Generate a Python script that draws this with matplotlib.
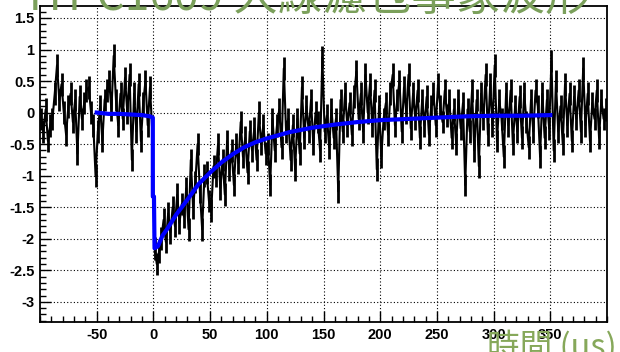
import numpy as np
import matplotlib
matplotlib.use("Agg")
import matplotlib.pyplot as plt
from matplotlib.ticker import MultipleLocator, FuncFormatter

# ---- data ----
bin_start = -99
bin_step = 2
signal = [
    # -99 .. -51
    -0.1, -0.3, 0.05, -0.45, -0.2,
    -0.1, 0.3, 0.75, 0.2, 0.45,
    0.0, -0.35, 0.1, 0.3, -0.15,
    0.2, -0.65, 0.25, -0.1, 0.15,
    0.35, 0.4, 0.0, -0.2, -1.0,
    # -49 .. -1
    -0.3, 0.1, -0.45, 0.2, 0.35,
    0.5, 0.05, 0.9, 0.2, -0.2,
    0.3, -0.1, 0.55, 0.0, 0.6,
    -0.75, 0.3, -0.3, 0.45, -0.45,
    0.15, 0.5, -0.2, 0.4, -0.3,
    # 1 .. 99
    -2.15, -2.4, -2.2, -2.0, -1.7,
    -2.05, -1.6, -1.9, -1.5, -1.8,
    -1.3, -1.75, -1.45, -1.65, -1.2,
    -1.85, -0.75, -1.5, -1.1, -0.5,
    -1.25, -1.85, -1.0, -0.95, -1.4,
    -1.55, -0.85, -1.0, -0.5, -1.2,
    -0.75, -1.3, -0.45, -0.9, -0.6,
    -1.15, -0.5, -0.8, -0.15, -0.7,
    -0.4, -0.95, -0.3, -0.6, -0.25,
    -0.75, 0.0, -0.5, -0.2, -0.65,
    # 101 .. 199
    -0.5, -1.15, -0.1, -0.6, -0.2,
    0.05, -0.55, 0.7, -0.3, -0.1,
    -0.75, -0.2, -0.9, -0.1, -0.65,
    0.4, -0.4, 0.1, -0.3, 0.2,
    -0.5, 0.0, -0.15, -0.6, 0.88,
    -0.3, -0.05, -0.55, 0.05, -0.4,
    -0.1, -1.25, 0.2, -0.3, 0.3,
    -0.2, 0.15, -0.35, 0.25, 0.65,
    -0.1, 0.3, -0.3, 0.6, 0.0,
    0.45, -0.2, 0.35, -0.9, 0.1,
    # 201 .. 299
    -0.7, -0.1, 0.15, -0.35, 0.3,
    0.6, -0.2, 0.2, 0.5, -0.3,
    0.4, 0.0, 0.6, -0.25, 0.3,
    -0.1, 0.35, -0.4, 0.2, -0.2,
    0.25, -0.35, 0.1, 0.3, -0.2,
    0.45, 0.1, -0.15, 0.35, -0.05,
    0.2, -0.4, 0.05, -0.5, 0.2,
    -0.25, 0.15, -1.15, 0.05, -0.3,
    0.35, -0.6, 0.2, -0.85, 0.3,
    -0.1, 0.6, -0.35, 0.45, -0.2,
    # 301 .. 399
    0.75, -0.45, 0.2, -0.1, -0.7,
    0.3, -0.2, 0.35, -0.5, 0.1,
    -0.3, 0.25, -0.4, 0.3, -0.15,
    -0.55, 0.2, -0.3, 0.35, 0.1,
    -0.7, 0.3, -0.4, 0.2, -0.25,
    0.82, -0.6, 0.5, -0.3, 0.1,
    -0.5, 0.45, -0.2, 0.3, -0.45,
    0.25, -0.1, 0.35, -0.3, 0.7,
    -0.2, 0.3, -0.45, 0.15, -0.1,
    0.35, -0.4, 0.2, -0.1, 0.05,
]
signal_err = 0.18

fit_x = [-50, -40, -30, -20, -10, -3, -0.5, -0.5, 0.5, 1, 4, 8, 12, 20, 30,
         40, 50, 60, 70, 80, 90, 100, 110, 120, 140, 160, 180, 200, 225,
         250, 275, 300, 325, 350]
fit_y = [0.0, -0.02, -0.02, -0.03, -0.04, -0.06, -0.08, -1.33, -1.33, -2.15,
         -2.12, -1.95, -1.85, -1.62, -1.38, -1.13, -0.95, -0.79, -0.66, -0.55,
         -0.47, -0.41, -0.36, -0.31, -0.24, -0.19, -0.15, -0.12, -0.10, -0.08,
         -0.06, -0.05, -0.05, -0.04]

x_major = [-50, 0, 50, 100, 150, 200, 250, 300, 350]
y_major = [-3, -2.5, -2, -1.5, -1, -0.5, 0, 0.5, 1, 1.5]
title_text = "TH-C1609 大線濾包事象波形"
xlabel_text = "時間 (us)"

# ---- figure ----
W, H = 620, 352
fig = plt.figure(figsize=(W / 100, H / 100), dpi=100)
ax = fig.add_axes([40 / W, 1 - 322 / H, (607 - 40) / W, (322 - 6) / H])

xs = bin_start + bin_step * np.arange(len(signal))
ax.errorbar(xs, signal, yerr=signal_err, fmt='none', ecolor='black',
            elinewidth=2.0, zorder=3)
ax.plot(xs, signal, color='black', lw=1.5, zorder=3)
ax.plot(fit_x, fit_y, color='#0000ff', lw=3.0, zorder=4)

ax.set_xlim(-100, 400)
ax.set_ylim(-3.32, 1.69)
ax.set_xticks(x_major)
ax.set_yticks(y_major)
ax.xaxis.set_minor_locator(MultipleLocator(10))
ax.yaxis.set_minor_locator(MultipleLocator(0.1))
ax.yaxis.set_major_formatter(FuncFormatter(lambda v, p: f"{v:g}"))
ax.xaxis.set_major_formatter(FuncFormatter(lambda v, p: f"{v:g}"))

ax.grid(True, which='major', color='black', lw=0.8, ls=(0, (1, 2)))
ax.tick_params(which='both', direction='in', top=False, right=False,
               colors='black', width=1.0)
ax.tick_params(which='major', length=8, pad=4)
ax.tick_params(which='minor', length=4)
for lab in ax.get_xticklabels() + ax.get_yticklabels():
    lab.set_fontfamily('Liberation Sans')
    lab.set_fontweight('bold')
    lab.set_fontsize(10.5)
for s in ax.spines.values():
    s.set_linewidth(1.3)
    s.set_color('black')

fig.text(22 / W, 1 - 10 / H, title_text, color='#7ba05b', fontsize=32,
         family=['Noto Sans CJK TC', 'DejaVu Sans'], ha='left',
         va='baseline')
fig.text(487 / W, 1 - 330 / H, xlabel_text, color='#86a85a', fontsize=23.5,
         family=['Noto Sans CJK TC', 'DejaVu Sans'], ha='left', va='top')

fig.savefig('out.png', dpi=100)
